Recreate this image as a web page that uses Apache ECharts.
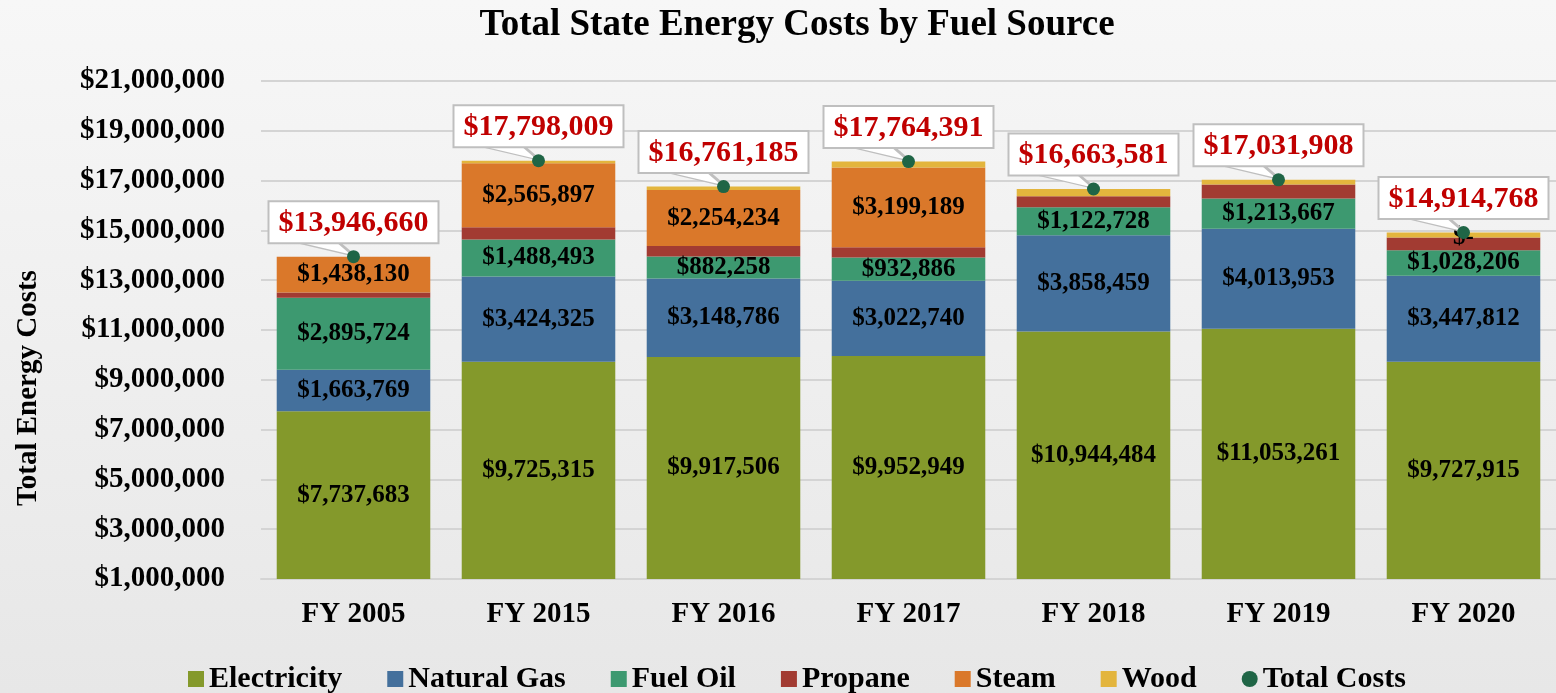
<!DOCTYPE html>
<html>
<head>
    <meta charset="utf-8" />
    <title>Total State Energy Costs by Fuel Source</title>
    <script src="https://cdn.jsdelivr.net/npm/echarts@6/dist/echarts.min.js"></script>
    <style>
        html, body { margin: 0; padding: 0; }
        body { background: linear-gradient(#f7f7f7, #e7e7e7); }
    </style>
</head>
<body>
    <div id="main" style="width:1556px;height:693px"></div>
    <script type="text/javascript">

        var categories = ['FY 2005', 'FY 2015', 'FY 2016', 'FY 2017', 'FY 2018', 'FY 2019', 'FY 2020'];
        var electricity = [7737683, 9725315, 9917506, 9952949, 10944484, 11053261, 9727915];
        var naturalGas = [1663769, 3424325, 3148786, 3022740, 3858459, 4013953, 3447812];
        var fuelOil = [2895724, 1488493, 882258, 932886, 1122728, 1213667, 1028206];
        var propane = [211354, 490000, 420000, 415000, 450000, 561000, 515000];
        var steam = [1438130, 2565897, 2254234, 3199189, null, null, 0];
        var wood = [null, 103979, 138401, 241627, 287910, 190027, 195835];
        var totalCosts = [13946660, 17798009, 16761185, 17764391, 16663581, 17031908, 14914768];

        var font = "'Liberation Serif', 'Times New Roman', serif";

        function money(v) {
            if (v === 0) return '$-';
            return '$' + Math.round(v).toLocaleString('en-US');
        }

        var chartDom = document.getElementById('main');
        var myChart = echarts.init(chartDom);

        function barSeries(name, data, color, showLabel) {
            return {
                name: name,
                type: 'bar',
                stack: 'cost',
                barCategoryGap: '17%',
                data: data,
                itemStyle: { color: color },
                label: {
                    show: showLabel,
                    position: 'inside',
                    color: '#000',
                    fontFamily: font,
                    fontWeight: 'bold',
                    fontSize: 25,
                    formatter: function (p) { return money(p.value); }
                }
            };
        }

        var option = {
            title: {
                text: 'Total State Energy Costs by Fuel Source',
                left: 792,
                top: 2,
                textAlign: 'center',
                textStyle: { fontFamily: font, fontWeight: 'bold', fontSize: 37, color: '#000' }
            },
            legend: {
                left: 183,
                top: 659,
                itemWidth: 16,
                itemHeight: 16,
                itemGap: 45,
                textStyle: { fontFamily: font, fontWeight: 'bold', fontSize: 30, color: '#000' },
                data: [
                    { name: 'Electricity', icon: 'rect' },
                    { name: 'Natural Gas', icon: 'rect' },
                    { name: 'Fuel Oil', icon: 'rect' },
                    { name: 'Propane', icon: 'rect' },
                    { name: 'Steam', icon: 'rect' },
                    { name: 'Wood', icon: 'rect' },
                    { name: 'Total Costs', icon: 'circle' }
                ]
            },
            grid: { left: 261, right: -6, top: 81, bottom: 114 },
            xAxis: {
                type: 'category',
                data: categories,
                axisLine: { lineStyle: { color: '#d4d4d4', width: 2 } },
                axisTick: { show: false },
                axisLabel: { color: '#000', fontFamily: font, fontWeight: 'bold', fontSize: 29, margin: 21 }
            },
            yAxis: {
                type: 'value',
                min: 1000000,
                max: 21000000,
                interval: 1000000,
                name: 'Total Energy Costs',
                nameLocation: 'middle',
                nameRotate: 90,
                nameGap: 218,
                nameTextStyle: { color: '#000', fontFamily: font, fontWeight: 'bold', fontSize: 29, padding: [0, 116, 0, 0] },
                axisLine: { show: false },
                axisTick: { show: false },
                axisLabel: {
                    color: '#000', fontFamily: font, fontWeight: 'bold', fontSize: 29, margin: 36,
                    formatter: function (v) {
                        return (Math.round(v / 1000000) % 2 === 1) ? money(v) : '';
                    }
                },
                splitLine: { lineStyle: { color: ['#d4d4d4', 'rgba(0,0,0,0)'], width: 2 } }
            },
            series: [
                barSeries('Electricity', electricity, '#84992b', true),
                barSeries('Natural Gas', naturalGas, '#44709c', true),
                barSeries('Fuel Oil', fuelOil, '#3d9970', true),
                barSeries('Propane', propane, '#a23b32', false),
                barSeries('Steam', steam, '#da782a', true),
                barSeries('Wood', wood, '#e3b53d', false),
                {
                    // callout pointer under each total label
                    name: 'pointer',
                    type: 'scatter',
                    data: totalCosts,
                    symbol: 'path://M0,0 L40,0 L55,13 Z',
                    symbolSize: [55, 13],
                    symbolOffset: [-26.5, -7],
                    z: 4,
                    silent: true,
                    itemStyle: { color: '#ffffff', borderColor: '#bfbfbf', borderWidth: 2, opacity: 1 }
                },
                {
                    name: 'Total Costs',
                    type: 'scatter',
                    data: totalCosts,
                    symbolSize: 13,
                    z: 5,
                    itemStyle: { color: '#1f6546', opacity: 1 },
                    label: {
                        show: true,
                        position: 'top',
                        distance: 8,
                        color: '#c00000',
                        fontFamily: font,
                        fontWeight: 'bold',
                        fontSize: 30,
                        backgroundColor: '#ffffff',
                        borderColor: '#bfbfbf',
                        borderWidth: 2,
                        padding: [6, 9, 4, 9],
                        formatter: function (p) { return money(p.value); }
                    }
                }
            ]
        };

        option && myChart.setOption(option);

    </script>
</body>
</html>
